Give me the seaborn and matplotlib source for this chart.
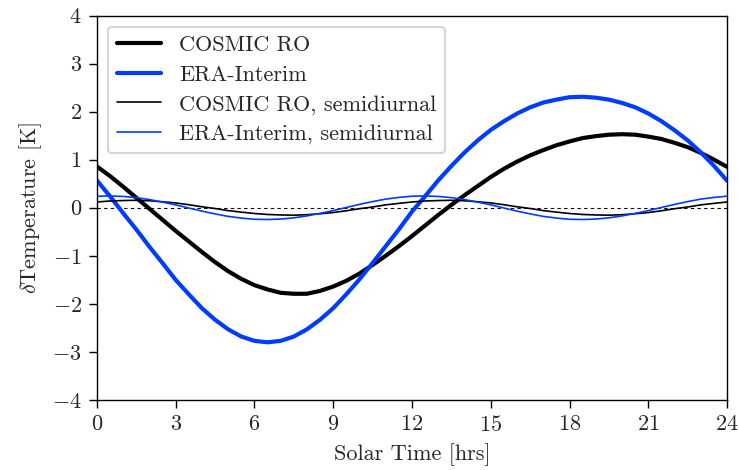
import numpy as np
import pandas as pd
import seaborn as sns
import matplotlib
matplotlib.use('Agg')
import matplotlib.pyplot as plt

# Solar time grid (every half hour) and values
solar_time = [i * 0.5 for i in range(49)]

cosmic_ro = [0.86, 0.66, 0.44, 0.21, -0.02, -0.25, -0.48, -0.70, -0.92, -1.13,
             -1.32, -1.48, -1.61, -1.70, -1.77, -1.79, -1.79, -1.73, -1.64, -1.52,
             -1.37, -1.19, -1.00, -0.80, -0.59, -0.37, -0.15, 0.06, 0.26, 0.45,
             0.64, 0.81, 0.96, 1.09, 1.20, 1.30, 1.38, 1.45, 1.49, 1.52,
             1.53, 1.52, 1.48, 1.43, 1.35, 1.26, 1.14, 1.00, 0.85]
era_interim = [0.57, 0.24, -0.11, -0.45, -0.81, -1.15, -1.50, -1.80, -2.09, -2.33,
               -2.53, -2.68, -2.77, -2.80, -2.77, -2.68, -2.53, -2.33, -2.09, -1.80,
               -1.49, -1.15, -0.80, -0.45, -0.08, 0.24, 0.57, 0.87, 1.15, 1.40,
               1.62, 1.80, 1.96, 2.09, 2.19, 2.25, 2.30, 2.31, 2.29, 2.25,
               2.18, 2.09, 1.96, 1.80, 1.61, 1.40, 1.15, 0.87, 0.56]
cosmic_ro_semi = [0.12, 0.14, 0.15, 0.155, 0.145, 0.125, 0.10, 0.063, 0.02, -0.016,
                  -0.06, -0.091, -0.12, -0.14, -0.15, -0.155, -0.145, -0.125, -0.10, -0.063,
                  -0.02, 0.016, 0.06, 0.091, 0.12, 0.14, 0.15, 0.155, 0.145, 0.125,
                  0.10, 0.063, 0.02, -0.016, -0.06, -0.091, -0.12, -0.14, -0.15, -0.155,
                  -0.145, -0.125, -0.10, -0.063, -0.02, 0.016, 0.06, 0.091, 0.12]
era_interim_semi = [0.24, 0.245, 0.235, 0.21, 0.17, 0.117, 0.06, -0.006, -0.07, -0.128,
                    -0.18, -0.215, -0.24, -0.245, -0.235, -0.21, -0.17, -0.117, -0.06, 0.006,
                    0.07, 0.128, 0.18, 0.215, 0.24, 0.245, 0.235, 0.21, 0.17, 0.117,
                    0.06, -0.006, -0.07, -0.128, -0.18, -0.215, -0.24, -0.245, -0.235, -0.21,
                    -0.17, -0.117, -0.06, 0.006, 0.07, 0.128, 0.18, 0.215, 0.24]

x_ticks = [0, 3, 6, 9, 12, 15, 18, 21, 24]
y_ticks = [-4, -3, -2, -1, 0, 1, 2, 3, 4]

sns.set_style('ticks')
plt.rcParams['font.family'] = 'serif'
plt.rcParams['font.serif'] = ['cmr10']
plt.rcParams['mathtext.fontset'] = 'cm'
plt.rcParams['axes.formatter.use_mathtext'] = True
plt.rcParams['axes.unicode_minus'] = True

blue = '#003cff'
fs = 16

fig = plt.figure(figsize=(7.39, 4.70), dpi=100)
ax = fig.add_axes([0.131, 0.149, 0.853, 0.818])

ax.axhline(0, color='black', lw=0.8, ls=(0, (3, 3)), zorder=1)

sns.lineplot(x=solar_time, y=cosmic_ro, color='black', lw=3, label='COSMIC RO', ax=ax)
sns.lineplot(x=solar_time, y=era_interim, color=blue, lw=3, label='ERA-Interim', ax=ax)
sns.lineplot(x=solar_time, y=cosmic_ro_semi, color='black', lw=1.2,
             label='COSMIC RO, semidiurnal', ax=ax)
sns.lineplot(x=solar_time, y=era_interim_semi, color=blue, lw=1.2,
             label='ERA-Interim, semidiurnal', ax=ax)

ax.set_xlim(0, 24)
ax.set_ylim(-4, 4)
ax.set_xticks(x_ticks)
ax.set_yticks(y_ticks)
ax.tick_params(labelsize=fs, length=5.8, width=1, pad=5, color='black', direction='out')
for s in ax.spines.values():
    s.set_color('black')
    s.set_linewidth(1)
ax.set_xlabel('Solar Time [hrs]', fontsize=fs, labelpad=6)
ax.set_ylabel(r'$\delta$Temperature [K]', fontsize=fs, labelpad=6)

leg = ax.legend(loc='upper left', fontsize=fs, frameon=True, fancybox=True,
                handlelength=2.0, borderaxespad=0.5, labelspacing=0.45)
leg.get_frame().set_edgecolor('0.8')
leg.get_frame().set_linewidth(1.5)

fig.savefig('out.png', dpi=100)
